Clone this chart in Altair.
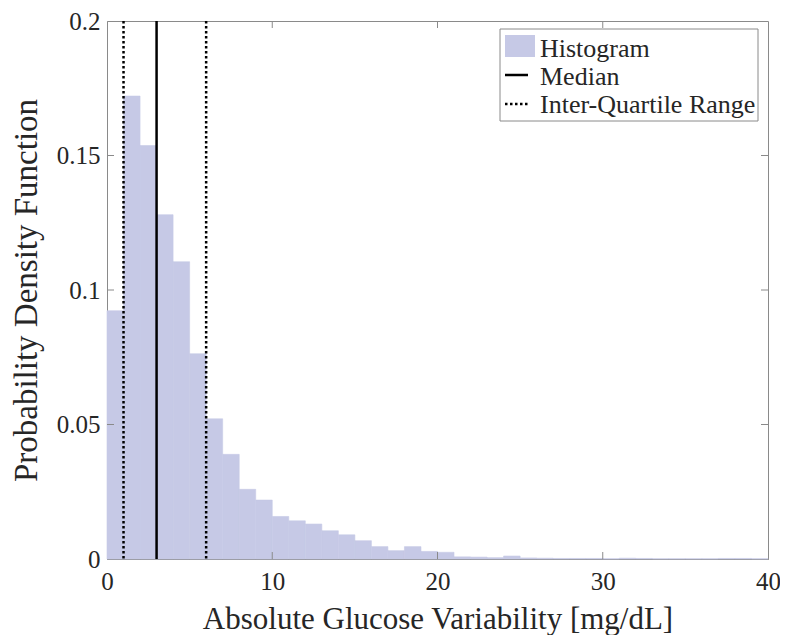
import altair as alt
import pandas as pd

# ---- data ----
bin_starts = list(range(0, 40))
density = [0.0923, 0.1721, 0.1537, 0.1280, 0.1105, 0.0763, 0.0521, 0.0389, 0.0259, 0.0219,
           0.0158, 0.0142, 0.0130, 0.0105, 0.0090, 0.0068, 0.0046, 0.0031, 0.0046, 0.0028,
           0.0025, 0.0008, 0.0007, 0.0005, 0.0011, 0.0004, 0.0003, 0.0002, 0.0002, 0.0002,
           0.0001, 0.0003, 0.0002, 0.0001, 0.0001, 0.0001, 0.0001, 0.0002, 0.0002, 0.0001]
bin_width = 1
median_value = 3.0
iqr_values = [1.0, 6.0]
x_ticks = [0, 10, 20, 30, 40]
y_ticks = [0, 0.05, 0.1, 0.15, 0.2]
legend_labels = ["Histogram", "Median", "Inter-Quartile Range"]

W, H = 661, 538
FONT = "Liberation Serif"
BAR = "#c6c9e6"
GRAY = "#8a8a8a"
TXT = "#262626"

hist = pd.DataFrame({
    "start": bin_starts,
    "end": [b + bin_width for b in bin_starts],
    "density": density,
})
rules = pd.DataFrame({
    "value": [median_value] + iqr_values,
    "kind": ["Median", "IQR", "IQR"],
})

xs = alt.Scale(domain=[0, 40], nice=False, zero=False)
ys = alt.Scale(domain=[0, 0.2], nice=False)

bars = alt.Chart(hist).mark_rect(color=BAR, stroke=BAR, strokeWidth=0.6).encode(
    x=alt.X("start:Q", scale=xs,
            axis=alt.Axis(values=x_ticks, title="Absolute Glucose Variability [mg/dL]",
                          ticks=False, labelPadding=10, titlePadding=10, format="d",
                          labelFlush=False, titleFontSize=31)),
    x2="end:Q",
    y=alt.Y("density:Q", scale=ys,
            axis=alt.Axis(values=y_ticks, title="Probability Density Function",
                          ticks=False, labelPadding=7, titlePadding=13, labelFlush=False,
                          titleFontSize=33,
                          labelExpr="datum.value == 0 ? '0' : format(datum.value, '.3~')")),
    y2=alt.datum(0),
)

median_rule = alt.Chart(rules[rules.kind == "Median"]).mark_rule(
    color="black", strokeWidth=2.5).encode(x=alt.X("value:Q", scale=xs))
iqr_rule = alt.Chart(rules[rules.kind == "IQR"]).mark_rule(
    color="black", strokeWidth=2.5, strokeDash=[2.5, 2.5]).encode(x=alt.X("value:Q", scale=xs))

# inside tick marks on all four sides
xt = pd.DataFrame({"v": x_ticks[1:-1]})
yt = pd.DataFrame({"v": y_ticks[1:-1]})
TL = 7
xb = alt.Chart(xt).mark_rule(color=GRAY, strokeWidth=1).encode(
    x=alt.X("v:Q", scale=xs), y=alt.value(H), y2=alt.value(H - TL))
xtop = alt.Chart(xt).mark_rule(color=GRAY, strokeWidth=1).encode(
    x=alt.X("v:Q", scale=xs), y=alt.value(0), y2=alt.value(TL))
yl = alt.Chart(yt).mark_rule(color=GRAY, strokeWidth=1).encode(
    y=alt.Y("v:Q", scale=ys), x=alt.value(0), x2=alt.value(TL))
yr = alt.Chart(yt).mark_rule(color=GRAY, strokeWidth=1).encode(
    y=alt.Y("v:Q", scale=ys), x=alt.value(W), x2=alt.value(W - TL))

# legend
one = pd.DataFrame({"a": [0]})
LX0, LX1, LY0, LY1 = 393, 651, 8, 100
leg_box = alt.Chart(one).mark_rect(fill="white", stroke=GRAY, strokeWidth=1).encode(
    x=alt.value(LX0), x2=alt.value(LX1), y=alt.value(LY0), y2=alt.value(LY1))
leg_swatch = alt.Chart(one).mark_rect(fill=BAR).encode(
    x=alt.value(LX0 + 5), x2=alt.value(LX0 + 35), y=alt.value(LY0 + 6), y2=alt.value(LY0 + 28))
leg_med = alt.Chart(one).mark_rule(color="black", strokeWidth=2.5).encode(
    x=alt.value(LX0 + 5), x2=alt.value(LX0 + 28), y=alt.value(LY0 + 46))
leg_iqr = alt.Chart(one).mark_rule(color="black", strokeWidth=2.5, strokeDash=[2.5, 2.5]).encode(
    x=alt.value(LX0 + 5), x2=alt.value(LX0 + 30), y=alt.value(LY0 + 75))
row_y = [LY0 + 28, LY0 + 56, LY0 + 84]
leg_texts = [
    alt.Chart(pd.DataFrame({"label": [lab]})).mark_text(
        align="left", baseline="alphabetic", font=FONT, fontSize=26, color=TXT).encode(
        text="label:N", x=alt.value(LX0 + 40), y=alt.value(yy))
    for lab, yy in zip(legend_labels, row_y)
]

chart = alt.layer(
    bars, median_rule, iqr_rule, xb, xtop, yl, yr,
    leg_box, leg_swatch, leg_med, leg_iqr, *leg_texts,
).properties(
    width=W, height=H,
    autosize=alt.AutoSizeParams(type="none"),
    padding={"left": 99, "top": 13, "right": 12, "bottom": 76},
    background="white",
).configure_view(
    stroke=GRAY, strokeWidth=1,
).configure_axis(
    labelFont=FONT, titleFont=FONT, labelFontSize=25,
    labelColor=TXT, titleColor=TXT, titleFontWeight="normal",
    domainColor=GRAY, grid=False,
)

chart.save("out.html", embed_options={"renderer": "svg", "actions": False})
